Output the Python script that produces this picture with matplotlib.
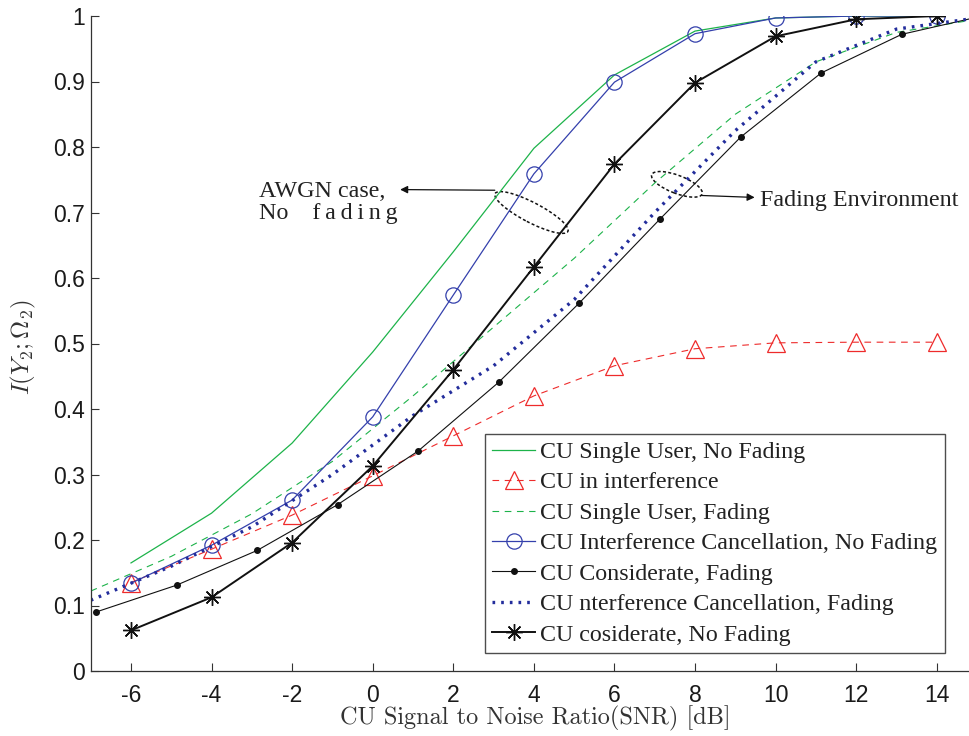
import numpy as np
import matplotlib
matplotlib.use("Agg")
import matplotlib.pyplot as plt
from matplotlib.patches import Ellipse
from matplotlib.transforms import ScaledTranslation

plt.rcParams['mathtext.fontset'] = 'cm'

# ---------------- data ----------------
snr = [-6, -4, -2, 0, 2, 4, 6, 8, 10, 12, 14]

single_nofade = [0.165, 0.241, 0.348, 0.487, 0.640, 0.798, 0.910, 0.977, 0.997, 1.0, 1.0]
interf = [0.135, 0.186, 0.238, 0.298, 0.359, 0.420, 0.466, 0.492, 0.501, 0.502, 0.502]
ic_nofade = [0.134, 0.192, 0.261, 0.388, 0.574, 0.759, 0.899, 0.973, 0.997, 1.0, 1.0]
consid_nofade = [0.062, 0.1125, 0.196, 0.313, 0.460, 0.617, 0.774, 0.898, 0.969, 0.995, 1.0]

snr_fade = [-7, -5, -3, -1, 1, 3, 5, 7, 9, 11, 13, 15]
single_fade = [0.122, 0.175, 0.240, 0.320, 0.420, 0.525, 0.630, 0.745, 0.850, 0.930, 0.975, 0.995]
ic_fade = [0.108, 0.160, 0.220, 0.300, 0.390, 0.466, 0.567, 0.700, 0.825, 0.930, 0.980, 0.997]

snr_consid_fade = [-6.87, -4.87, -2.87, -0.87, 1.13, 3.13, 5.13, 7.13, 9.13, 11.13, 13.13, 15.13]
consid_fade = [0.090, 0.131, 0.184, 0.254, 0.336, 0.441, 0.562, 0.690, 0.815, 0.913, 0.972, 1.0]

labels = ["CU Single User, No Fading", "CU in interference", "CU Single User, Fading",
          "CU Interference Cancellation, No Fading", "CU Considerate, Fading",
          "CU nterference Cancellation, Fading", "CU cosiderate, No Fading"]

xticks = [-6, -4, -2, 0, 2, 4, 6, 8, 10, 12, 14]
yticks = [0, 0.1, 0.2, 0.3, 0.4, 0.5, 0.6, 0.7, 0.8, 0.9, 1]
ytick_labels = ["0", "0.1", "0.2", "0.3", "0.4", "0.5", "0.6", "0.7", "0.8", "0.9", "1"]

# ---------------- figure ----------------
fig = plt.figure(figsize=(9.69, 7.36), dpi=100)
ax = fig.add_axes([90.7/969, 65/736, 1 - 90.7/969, 655/736])

green = '#1db34a'
red = '#ee2b2b'
blue = '#3440ac'
navy = '#232d9c'

ax.plot(snr, single_nofade, color=green, lw=0.9, label=labels[0])
ax.plot(snr, interf, color=red, lw=0.8, ls=(0, (6, 5)), marker='^', ms=13,
        mfc='none', mec=red, mew=0.9, label=labels[1])
ax.plot(snr_fade, single_fade, color=green, lw=0.8, ls=(0, (6, 5)), label=labels[2])
ax.plot(snr, ic_nofade, color=blue, lw=0.9, marker='o', ms=11, mfc='none',
        mec=blue, mew=0.9, label=labels[3])
ax.plot(snr_consid_fade, consid_fade, color='#111111', lw=0.8, marker='o', ms=4,
        label=labels[4])
ax.plot(snr_fade, ic_fade, color=navy, lw=2.4, ls=(0, (0.8, 1.8)), label=labels[5])
ax.plot(snr, consid_nofade, color='#111111', lw=1.4, marker=(8, 2, 0), ms=12,
        mew=1.0, label=labels[6])

ax.set_xlim(-7, 14.8)
ax.set_ylim(0, 1)
ax.set_xticks(xticks)
ax.set_xticklabels([str(v) for v in xticks])
ax.set_yticks(yticks)
ax.set_yticklabels(ytick_labels)

for s in ['top', 'right']:
    ax.spines[s].set_visible(False)
for s in ['left', 'bottom']:
    ax.spines[s].set_color('#333333')
    ax.spines[s].set_linewidth(0.9)

ax.tick_params(direction='in', length=6, width=0.8, color='#333333',
               labelsize=16.5, labelcolor='#1a1a1a')
ax.tick_params(axis='x', pad=9)
ax.tick_params(axis='y', pad=4)
for lab in ax.get_xticklabels() + ax.get_yticklabels():
    lab.set_fontfamily('Liberation Sans')

ax.set_xlabel("CU Signal to Noise Ratio(SNR) [dB]", fontfamily='cmr10',
              fontsize=17.5, color='#333333', va='center')
ax.xaxis.set_label_coords(0.506, -0.072)
ax.set_ylabel(r"$I(Y_2;\Omega_2)$", fontsize=18, color='#333333', va='center')
ax.yaxis.set_label_coords(-0.076, 0.495)

leg = ax.legend(loc='upper left', bbox_to_anchor=(485/969, 1 - 434/736),
                bbox_transform=fig.transFigure, borderaxespad=0,
                prop={'family': 'Liberation Serif', 'size': 17.3},
                frameon=True, fancybox=False, edgecolor='#222222',
                handlelength=1.8, handletextpad=0.2, labelspacing=0.36,
                borderpad=0.3)
leg.get_frame().set_linewidth(1.0)
for t in leg.get_texts():
    t.set_color('#222222')

# annotations
def add_ellipse(cx, cy, w_px, h_px, angle):
    tr = fig.dpi_scale_trans + ScaledTranslation(cx, cy, ax.transData)
    e = Ellipse((0, 0), w_px / 100, h_px / 100, angle=angle, transform=tr,
                fill=False, ec='#111111', lw=1.1, ls=(0, (2, 1.5)))
    ax.add_patch(e)

add_ellipse(3.94, 0.70, 82, 20, -27.5)
add_ellipse(7.55, 0.743, 54, 18, -21)

ax.annotate("", xy=(0.68, 0.735), xytext=(3.03, 0.734),
            arrowprops=dict(arrowstyle='-|>', color='#111111', lw=0.9,
                            mutation_scale=11, shrinkA=0, shrinkB=0))
ax.annotate("", xy=(9.48, 0.723), xytext=(8.16, 0.726),
            arrowprops=dict(arrowstyle='-|>', color='#111111', lw=0.9,
                            mutation_scale=11, shrinkA=0, shrinkB=0))

ax.text(-2.82, 0.715, "AWGN case,\nNo    f\u2009a\u2009d\u2009i\u2009n\u2009g", ha='left', va='center',
        fontsize=17.3, family=['Liberation Serif', 'DejaVu Serif'], color='#222222',
        linespacing=1.05)
ax.text(9.61, 0.719, "Fading Environment", ha='left', va='center',
        fontsize=17.3, family='Liberation Serif', color='#222222')

fig.savefig("out.png", dpi=100)
